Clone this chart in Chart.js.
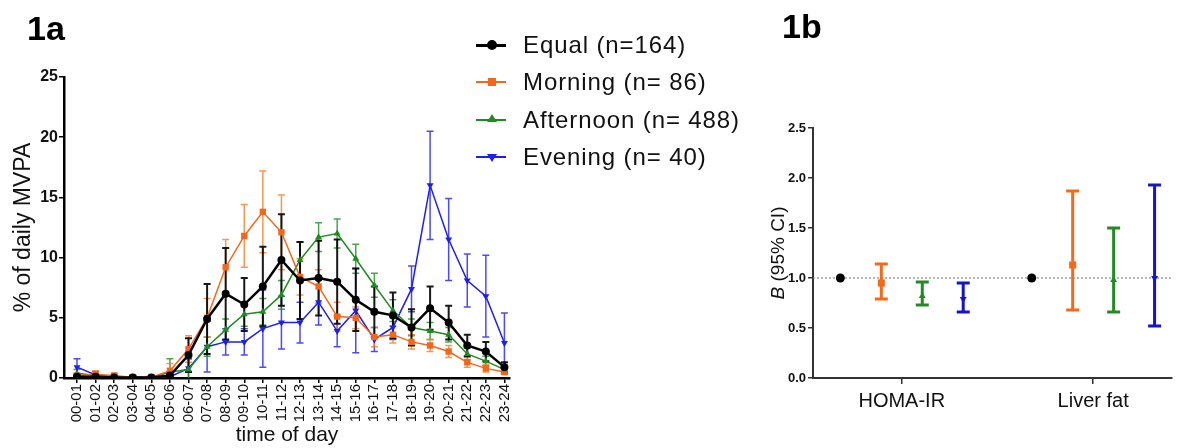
<!DOCTYPE html>
<html>
<head>
<meta charset="utf-8">
<script src="https://cdn.jsdelivr.net/npm/chart.js@4.4.0/dist/chart.umd.min.js"></script>
<style>
  body { margin: 0; background: #fff; font-family: "Liberation Sans", Arial, sans-serif; }
  #page { position: relative; width: 1177px; height: 448px; overflow: hidden; }
  canvas { position: absolute; top: 0; }
  .panel { position: absolute; font-weight: bold; font-size: 34px; line-height: 34px; }
  .legend-row { position: absolute; left: 476px; height: 26px; width: 290px; }
  .legend-row .line { position: absolute; left: 0; top: 12px; width: 30px; height: 2px; }
  .legend-row .mark { position: absolute; }
  .legend-row .txt { position: absolute; left: 47px; top: 0; font-size: 24px; line-height: 26px; letter-spacing: 0.9px; white-space: nowrap; color: #111; }
  #ytitle-b { position: absolute; left: 718px; top: 241px; width: 120px; text-align: center; font-size: 19px; line-height: 24px; transform: rotate(-90deg); color: #111; white-space: nowrap; }
</style>
</head>
<body>
<div id="page">
  <canvas id="chart1a" width="560" height="448" style="left:0"></canvas>
  <canvas id="chart1b" width="417" height="448" style="left:760px"></canvas>
  <div class="panel" style="left:27px; top:11px">1a</div>
  <div class="panel" style="left:782px; top:9px">1b</div>
  <div id="legend"></div>
  <div id="ytitle-b"><i>B</i> (95% CI)</div>
</div>
<script>
// 1a: % of daily MVPA per hour, mean and error
const hours = ["00-01", "01-02", "02-03", "03-04", "04-05", "05-06", "06-07", "07-08",
  "08-09", "09-10", "10-11", "11-12", "12-13", "13-14", "14-15", "15-16",
  "16-17", "17-18", "18-19", "19-20", "20-21", "21-22", "22-23", "23-24"];

const equalMean = [0.1, 0.1, 0.05, 0.05, 0.05, 0.2, 1.9, 4.9, 7.0, 6.1, 7.6, 9.8, 8.1, 8.3, 8.0, 6.5, 5.5, 5.2, 4.2, 5.8, 4.6, 2.7, 2.2, 0.9];
const equalErr = [0.2, 0.2, 0.1, 0.1, 0.1, 0.3, 1.4, 2.9, 3.8, 2.2, 3.3, 3.8, 3.2, 3.1, 3.5, 2.6, 2.1, 1.9, 1.5, 1.8, 1.4, 0.9, 0.8, 0.4];

const morningMean = [0.2, 0.3, 0.2, 0.05, 0.05, 0.6, 2.4, 5.0, 9.2, 11.8, 13.8, 12.1, 8.4, 7.6, 5.1, 5.0, 3.4, 3.6, 3.0, 2.7, 2.2, 1.3, 0.8, 0.5];
const morningErr = [0.2, 0.3, 0.2, 0.1, 0.1, 0.6, 1.1, 1.6, 2.3, 2.6, 3.4, 3.1, 1.5, 1.4, 1.2, 0.9, 0.8, 0.7, 0.6, 0.5, 0.5, 0.4, 0.3, 0.2];

const afternoonMean = [0.4, 0.2, 0.05, 0.05, 0.05, 0.5, 0.7, 2.6, 4.0, 5.3, 5.5, 6.9, 9.8, 11.7, 12.0, 9.9, 7.7, 5.6, 4.2, 3.9, 3.6, 2.0, 1.4, 0.7];
const afternoonErr = [0.3, 0.2, 0.1, 0.1, 0.1, 1.1, 0.9, 0.8, 0.9, 1.0, 1.1, 1.2, 1.5, 1.2, 1.2, 1.2, 1.0, 0.9, 0.7, 0.7, 0.6, 0.5, 0.4, 0.3];

const eveningMean = [0.9, 0.25, 0.1, 0.1, 0.05, 0.1, 0.8, 2.6, 3.0, 3.0, 4.1, 4.6, 4.6, 6.3, 3.9, 5.6, 3.2, 4.2, 7.4, 16.0, 11.5, 8.1, 6.8, 2.9];
const eveningErr = [0.7, 0.3, 0.1, 0.1, 0.1, 0.2, 0.8, 2.1, 1.1, 1.1, 3.2, 2.2, 1.7, 1.9, 1.3, 3.5, 1.0, 1.0, 1.9, 4.5, 3.4, 2.2, 3.4, 2.5];

const yTicks1a = [0, 5, 10, 15, 20, 25];

// 1b: B (95% CI) per outcome
const outcomes = ["HOMA-IR", "Liver fat"];
const equalB = [1.0, 1.0];
const morningB = [0.95, 1.13];
const morningLo = [0.79, 0.68];
const morningHi = [1.14, 1.87];
const afternoonB = [0.82, 0.98];
const afternoonLo = [0.73, 0.66];
const afternoonHi = [0.96, 1.50];
const eveningB = [0.79, 1.0];
const eveningLo = [0.66, 0.52];
const eveningHi = [0.95, 1.93];
const yTicks1b = [0, 0.5, 1.0, 1.5, 2.0, 2.5];
const refValue = 1.0;

const groups = [
  { label: "Equal (n=164)", color: "#000000", err: "rgba(0,0,0,0.9)", style: "circle", rot: 0, width: 2.5 },
  { label: "Morning (n= 86)", color: "#F4661B", err: "rgba(245,125,40,0.8)", style: "rect", rot: 0, width: 1.5 },
  { label: "Afternoon (n= 488)", color: "#1E8C1E", err: "rgba(30,140,30,0.8)", style: "triangle", rot: 0, width: 1.5 },
  { label: "Evening (n= 40)", color: "#1E1EF0", err: "rgba(30,30,240,0.8)", style: "triangle", rot: 180, width: 1.5 }
];

const errorBars = {
  id: "errorBars",
  beforeDatasetsDraw(chart) {
    const ctx = chart.ctx;
    const yScale = chart.scales.y;
    const area = chart.chartArea;
    ctx.save();
    ctx.beginPath();
    ctx.rect(area.left, area.top - 5, area.right - area.left, area.bottom - area.top + 5);
    ctx.clip();
    for (let d = chart.data.datasets.length - 1; d >= 0; d--) {
      const ds = chart.data.datasets[d];
      if (!ds.errLow) continue;
      const meta = chart.getDatasetMeta(d);
      ctx.strokeStyle = ds.errColor;
      ctx.lineWidth = ds.errWidth;
      meta.data.forEach((pt, i) => {
        const yLo = yScale.getPixelForValue(Math.max(ds.errLow[i], yScale.min));
        const yHi = yScale.getPixelForValue(ds.errHigh[i]);
        const c = ds.capHalf;
        ctx.beginPath();
        ctx.moveTo(pt.x, yLo);
        ctx.lineTo(pt.x, yHi);
        ctx.moveTo(pt.x - c, yHi);
        ctx.lineTo(pt.x + c, yHi);
        if (ds.errLow[i] > yScale.min) {
          ctx.moveTo(pt.x - c, yLo);
          ctx.lineTo(pt.x + c, yLo);
        }
        ctx.stroke();
      });
    }
    ctx.restore();
  }
};

const refLine = {
  id: "refLine",
  beforeDatasetsDraw(chart) {
    const ctx = chart.ctx;
    const area = chart.chartArea;
    const y = chart.scales.y.getPixelForValue(refValue);
    ctx.save();
    ctx.strokeStyle = "#8a8a8a";
    ctx.lineWidth = 1.2;
    ctx.setLineDash([2, 2]);
    ctx.beginPath();
    ctx.moveTo(area.left, y);
    ctx.lineTo(area.right, y);
    ctx.stroke();
    ctx.restore();
  }
};

// ---------- 1a ----------
const means1a = [equalMean, morningMean, afternoonMean, eveningMean];
const errs1a = [equalErr, morningErr, afternoonErr, eveningErr];

new Chart(document.getElementById("chart1a"), {
  type: "line",
  data: {
    datasets: groups.map((g, k) => ({
      label: g.label,
      data: hours.map((h, i) => ({ x: i, y: means1a[k][i] })),
      borderColor: g.color,
      backgroundColor: g.color,
      borderWidth: g.width,
      pointStyle: g.style,
      rotation: g.rot,
      pointRadius: k === 1 ? 4.5 : 4,
      pointBorderWidth: 0,
      tension: 0,
      errLow: means1a[k].map((v, i) => v - errs1a[k][i]),
      errHigh: means1a[k].map((v, i) => v + errs1a[k][i]),
      errColor: g.err,
      errWidth: k === 0 ? 2 : 1.5,
      capHalf: 3.5
    }))
  },
  options: {
    responsive: false,
    animation: false,
    layout: { padding: { left: 0, top: 77, right: 50, bottom: 0 } },
    plugins: { legend: { display: false }, tooltip: { enabled: false } },
    scales: {
      x: {
        type: "linear",
        min: -0.7,
        max: 23.3,
        afterFit: (scale) => { scale.height = 70; },
        afterBuildTicks: (scale) => { scale.ticks = hours.map((h, i) => ({ value: i })); },
        ticks: {
          autoSkip: false,
          maxRotation: 90,
          minRotation: 90,
          padding: 1,
          color: "#111",
          font: { family: "Liberation Sans", size: 15 },
          callback: (v) => hours[v]
        },
        grid: { drawOnChartArea: false, tickLength: 5, color: "#000", lineWidth: 1.5 },
        border: { color: "#000", width: 2.5 },
        title: {
          display: true,
          text: "time of day",
          color: "#111",
          padding: { top: 0, bottom: 0 },
          font: { family: "Liberation Sans", size: 21 }
        }
      },
      y: {
        min: 0,
        max: 25,
        afterFit: (scale) => { scale.width = 64; },
        afterBuildTicks: (scale) => { scale.ticks = yTicks1a.map((v) => ({ value: v })); },
        ticks: {
          padding: 1,
          color: "#111",
          font: { family: "Liberation Sans", size: 16, weight: "bold" }
        },
        grid: { drawOnChartArea: false, tickLength: 5, color: "#000", lineWidth: 1.5 },
        border: { color: "#000", width: 2.5 },
        title: {
          display: true,
          text: "% of daily MVPA",
          color: "#111",
          padding: { top: 10, bottom: 0 },
          font: { family: "Liberation Sans", size: 23 }
        }
      }
    }
  },
  plugins: [errorBars]
});

// ---------- 1b ----------
const values1b = [equalB, morningB, afternoonB, eveningB];
const lows1b = [null, morningLo, afternoonLo, eveningLo];
const highs1b = [null, morningHi, afternoonHi, eveningHi];
const dodge = 0.214;
const colors1b = ["#000000", "#F26A1B", "#228B22", "#1515C8"];

new Chart(document.getElementById("chart1b"), {
  type: "scatter",
  data: {
    datasets: groups.map((g, k) => ({
      label: g.label,
      data: outcomes.map((o, i) => ({ x: i + 1 + (k - 1.5) * dodge, y: values1b[k][i] })),
      backgroundColor: colors1b[k],
      borderColor: colors1b[k],
      pointStyle: g.style,
      rotation: g.rot,
      pointRadius: k === 0 ? 4.5 : k === 1 ? 5 : 4,
      pointBorderWidth: 0,
      showLine: false,
      errLow: lows1b[k],
      errHigh: highs1b[k],
      errColor: colors1b[k],
      errWidth: 3,
      capHalf: 6.5
    }))
  },
  options: {
    responsive: false,
    animation: false,
    layout: { padding: { left: 0, top: 128, right: 0, bottom: 0 } },
    plugins: { legend: { display: false }, tooltip: { enabled: false } },
    scales: {
      x: {
        type: "linear",
        min: 0.536,
        max: 2.412,
        afterFit: (scale) => { scale.height = 70; },
        afterBuildTicks: (scale) => { scale.ticks = outcomes.map((o, i) => ({ value: i + 1 })); },
        ticks: {
          padding: 5,
          color: "#111",
          font: { family: "Liberation Sans", size: 20 },
          callback: (v) => outcomes[v - 1]
        },
        grid: { drawOnChartArea: false, tickLength: 6, color: "#333", lineWidth: 1.5 },
        border: { color: "#333", width: 2 }
      },
      y: {
        min: 0,
        max: 2.5,
        afterFit: (scale) => { scale.width = 53; },
        afterBuildTicks: (scale) => { scale.ticks = yTicks1b.map((v) => ({ value: v })); },
        ticks: {
          padding: 2,
          color: "#111",
          font: { family: "Liberation Sans", size: 13, weight: "bold" },
          callback: (v) => v.toFixed(1)
        },
        grid: { drawOnChartArea: false, tickLength: 5, color: "#333", lineWidth: 1.5 },
        border: { color: "#333", width: 2 }
      }
    }
  },
  plugins: [refLine, errorBars]
});

// ---------- legend (html) ----------
const legendTops = [32, 69, 107, 144];
const legendEl = document.getElementById("legend");
groups.forEach((g, k) => {
  const row = document.createElement("div");
  row.className = "legend-row";
  row.style.top = legendTops[k] + "px";
  const line = document.createElement("div");
  line.className = "line";
  line.style.background = g.color;
  line.style.height = k === 0 ? "3px" : "2px";
  row.appendChild(line);
  const mark = document.createElement("div");
  mark.className = "mark";
  if (g.style === "circle") {
    Object.assign(mark.style, { left: "11px", top: "8px", width: "10px", height: "10px", borderRadius: "50%", background: g.color });
  } else if (g.style === "rect") {
    Object.assign(mark.style, { left: "12px", top: "9px", width: "8px", height: "8px", background: g.color });
  } else if (g.rot === 0) {
    Object.assign(mark.style, { left: "11px", top: "7px", width: "0", height: "0", borderLeft: "5px solid transparent", borderRight: "5px solid transparent", borderBottom: "8px solid " + g.color });
  } else {
    Object.assign(mark.style, { left: "11px", top: "10px", width: "0", height: "0", borderLeft: "5px solid transparent", borderRight: "5px solid transparent", borderTop: "8px solid " + g.color });
  }
  row.appendChild(mark);
  const txt = document.createElement("div");
  txt.className = "txt";
  txt.textContent = g.label;
  row.appendChild(txt);
  legendEl.appendChild(row);
});
</script>
</body>
</html>
